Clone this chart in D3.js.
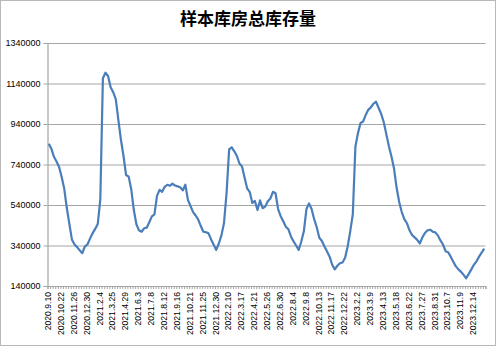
<!DOCTYPE html>
<html>
<head>
<meta charset="utf-8">
<script src="https://cdn.jsdelivr.net/npm/d3@7"></script>
<style>
  html, body { margin: 0; padding: 0; background: #fff; }
  #chart { width: 496px; height: 346px; }
</style>
</head>
<body>
<div id="chart"></div>
<script>
const title = "样本库房总库存量";

// 周度库存，每个刻度标签对应 5 个数据点
const tickLabels = [
  "2020.9.10", "2020.10.22", "2020.11.26", "2020.12.30", "2021.2.4", "2021.3.25",
  "2021.4.29", "2021.6.3", "2021.7.8", "2021.8.12", "2021.9.16", "2021.10.21",
  "2021.11.25", "2021.12.30", "2022.2.10", "2022.3.17", "2022.4.21", "2022.5.26",
  "2022.6.30", "2022.8.4", "2022.9.8", "2022.10.13", "2022.11.17", "2022.12.22",
  "2023.2.2", "2023.3.9", "2023.4.13", "2023.5.18", "2023.6.22", "2023.7.27",
  "2023.8.31", "2023.10.7", "2023.11.9", "2023.12.14"
];

const stock = [
  842000, 818000, 778000, 755000, 728000, 678000, 620000, 525000, 445000, 368000,
  345000, 332000, 316000, 302000, 335000, 345000, 374000, 400000, 422000, 446000,
  568000, 1166000, 1193000, 1177000, 1122000, 1097000, 1063000, 960000, 862000, 782000,
  688000, 680000, 618000, 515000, 445000, 415000, 408000, 425000, 428000, 455000,
  484000, 494000, 585000, 615000, 605000, 630000, 640000, 635000, 645000, 636000,
  632000, 628000, 612000, 640000, 565000, 535000, 505000, 488000, 468000, 436000,
  408000, 406000, 400000, 370000, 344000, 318000, 350000, 390000, 450000, 600000,
  815000, 825000, 805000, 782000, 745000, 730000, 675000, 622000, 604000, 550000,
  560000, 515000, 563000, 524000, 532000, 558000, 572000, 605000, 598000, 520000,
  485000, 460000, 433000, 420000, 385000, 360000, 340000, 318000, 360000, 410000,
  520000, 548000, 520000, 470000, 430000, 378000, 362000, 335000, 310000, 285000,
  245000, 222000, 240000, 252000, 256000, 280000, 335000, 410000, 495000, 828000,
  895000, 945000, 952000, 985000, 1010000, 1022000, 1040000, 1050000, 1020000, 990000,
  950000, 890000, 830000, 780000, 720000, 625000, 555000, 505000, 470000, 450000,
  415000, 392000, 380000, 368000, 350000, 380000, 402000, 415000, 418000, 408000,
  405000, 390000, 365000, 345000, 312000, 307000, 285000, 260000, 237000, 222000,
  210000, 195000, 178000, 200000, 222000, 245000, 262000, 285000, 305000, 325000
];

const yTicks = [140000, 340000, 540000, 740000, 940000, 1140000, 1340000];
const labelStep = 5;

const W = 496, H = 346;
const margin = { top: 43, right: 10.5, bottom: 60, left: 47.5 };
const innerW = W - margin.left - margin.right;
const innerH = H - margin.top - margin.bottom;

const svg = d3.select("#chart").append("svg")
  .attr("width", W)
  .attr("height", H);

// 外框
svg.append("rect")
  .attr("x", 0.5).attr("y", 0.5)
  .attr("width", W - 1).attr("height", H - 1)
  .attr("fill", "#fff")
  .attr("stroke", "#b8b8b8");

svg.append("text")
  .attr("x", W / 2)
  .attr("y", 25)
  .attr("text-anchor", "middle")
  .attr("font-family", "'Noto Sans CJK SC', sans-serif")
  .attr("font-weight", 700)
  .attr("font-size", 17)
  .attr("fill", "#000")
  .text(title);

const g = svg.append("g").attr("transform", `translate(${margin.left},${margin.top})`);

const idx = d3.range(stock.length);
const x = d3.scaleBand().domain(idx).range([0, innerW]);
const xEdge = d3.scaleLinear().domain([0, stock.length]).range([0, innerW]);
const y = d3.scaleLinear().domain([140000, 1340000]).range([innerH, 0]);

// 网格线
g.append("g")
  .call(d3.axisLeft(y).tickValues(yTicks).tickSize(-innerW).tickFormat(""))
  .call((s) => s.select(".domain").remove())
  .selectAll("line")
  .attr("stroke", "#a6a6a6")
  .attr("stroke-width", 1.2);

// y 轴
const yAxis = g.append("g")
  .call(d3.axisLeft(y).tickValues(yTicks).tickSize(4).tickPadding(3).tickFormat(d3.format("d")));
yAxis.select(".domain").attr("stroke", "#a6a6a6").attr("stroke-width", 1.2);
yAxis.selectAll("line").attr("stroke", "#a6a6a6");
yAxis.selectAll("text")
  .attr("font-family", "'Liberation Sans', Arial, sans-serif")
  .attr("font-size", 9)
  .attr("fill", "#000");

// x 轴刻度（类别之间）
const xTicks = g.append("g")
  .attr("transform", `translate(0,${innerH})`)
  .call(d3.axisBottom(xEdge).tickValues(d3.range(stock.length + 1)).tickSize(3).tickFormat(""));
xTicks.select(".domain").attr("stroke", "#a6a6a6").attr("stroke-width", 1.2);
xTicks.selectAll("line").attr("stroke", "#a6a6a6");

// x 轴标签，每 5 个点一个
const xLab = g.append("g")
  .attr("transform", `translate(0,${innerH})`)
  .call(
    d3.axisBottom(x)
      .tickValues(idx.filter((i) => i % labelStep === 0))
      .tickSize(0)
      .tickFormat((i) => tickLabels[i / labelStep])
  );
xLab.select(".domain").remove();
xLab.selectAll("text")
  .attr("transform", "rotate(-90)")
  .attr("text-anchor", "end")
  .attr("dx", "-6")
  .attr("dy", "0")
  .attr("x", 0)
  .attr("y", 0)
  .attr("dominant-baseline", "middle")
  .attr("font-family", "'Liberation Sans', Arial, sans-serif")
  .attr("font-size", 8.6)
  .attr("fill", "#000");

// 折线
const line = d3.line()
  .x((d, i) => x(i) + x.bandwidth() / 2)
  .y((d) => y(d));

g.append("path")
  .datum(stock)
  .attr("fill", "none")
  .attr("stroke", "#4a7ebb")
  .attr("stroke-width", 2.2)
  .attr("stroke-linejoin", "round")
  .attr("d", line);
</script>
</body>
</html>
